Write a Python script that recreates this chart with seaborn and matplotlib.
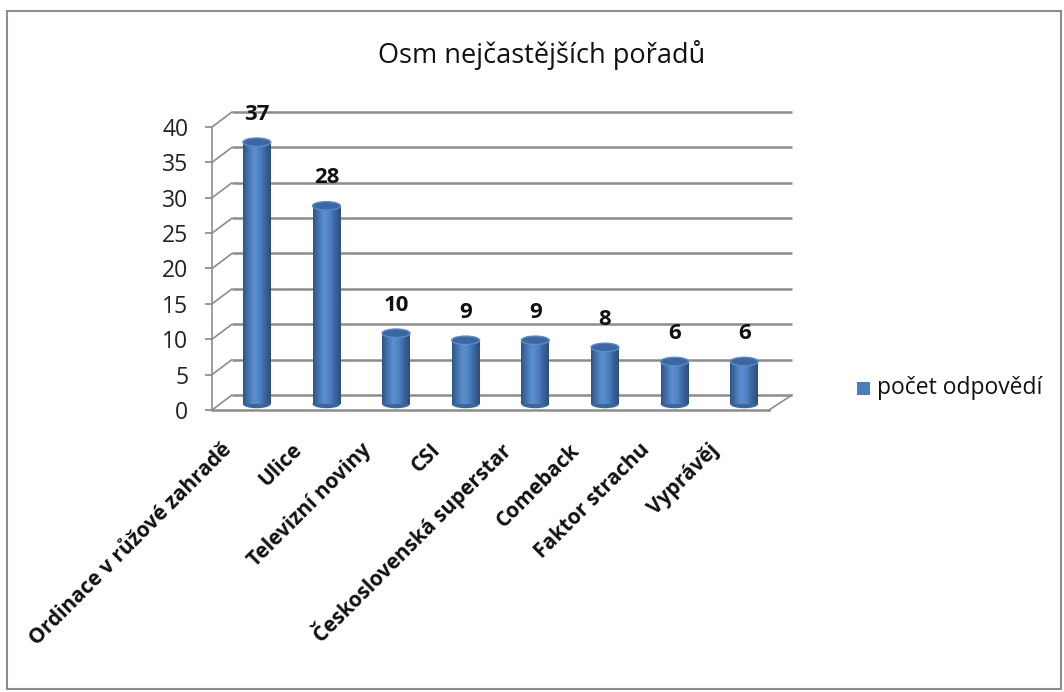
import numpy as np
import pandas as pd
import matplotlib
matplotlib.use("Agg")
import matplotlib.pyplot as plt
import matplotlib.transforms as mtransforms
from matplotlib.patches import Rectangle, Ellipse
from matplotlib.lines import Line2D
from matplotlib.colors import LinearSegmentedColormap
import seaborn as sns

categories = ["Ordinace v růžové zahradě", "Ulice", "Televizní noviny", "CSI",
              "Československá superstar", "Comeback", "Faktor strachu", "Vyprávěj"]
values = [37, 28, 10, 9, 9, 8, 6, 6]
yticks = [0, 5, 10, 15, 20, 25, 30, 35, 40]
title = "Osm nejčastějších pořadů"
series_name = "počet odpovědí"

sns.set_theme(style="white")
plt.rcParams['font.family'] = ['Open Sans', 'DejaVu Sans']

W, H = 1064, 692
fig = plt.figure(figsize=(W / 100, H / 100), dpi=100)
ax = fig.add_axes([212 / W, 1 - 410 / H, (769 - 212) / W, (410 - 127) / H])

df = pd.DataFrame({"cat": categories, "val": values})
sns.barplot(data=df, x="cat", y="val", ax=ax, color="#4a7ebb", width=0.40,
            edgecolor="none", linewidth=0, saturation=1, zorder=3)

ax.set_ylim(0, 40)
ax.set_xlim(-0.5, len(categories) - 0.5)
ax.set_xlabel("")
ax.set_ylabel("")

dpi = fig.dpi
def off(dx, dy):
    return mtransforms.ScaledTranslation(dx / dpi, dy / dpi, fig.dpi_scale_trans)

bar_tr = ax.transData + off(10, 6)
cyl = LinearSegmentedColormap.from_list(
    "cyl", ["#2f5584", "#4575b0", "#5d8fd0", "#4f82c2", "#3a659d", "#2c4f7c"])
grad = np.linspace(0, 1, 64).reshape(1, -1)
ell_h = 1.2  # ellipse height in data units
for p in list(ax.patches):
    p.set_transform(bar_tr)
    x, w, h = p.get_x(), p.get_width(), p.get_height()
    im = ax.imshow(grad, cmap=cyl, aspect="auto", extent=(x, x + w, 0, h),
                   transform=bar_tr, zorder=3.5, interpolation="bilinear")
    im.set_clip_path(p)
    ax.add_patch(Ellipse((x + w / 2, 0), w, ell_h, transform=bar_tr,
                         facecolor="#3a659d", edgecolor="none", zorder=3.4))
    ax.add_patch(Ellipse((x + w / 2, h), w, ell_h, transform=bar_tr,
                         facecolor="#3b68a3", edgecolor="#5b8bc8", lw=1, zorder=3.8))
ax.set_xlim(-0.5, len(categories) - 0.5)
ax.set_ylim(0, 40)

# back wall gridlines
back = ax.get_yaxis_transform() + off(20, 15)
for v in yticks:
    ax.plot([0, 1.005], [v, v], transform=back, color="#8c8c8c", lw=1.8, zorder=1,
            clip_on=False, solid_capstyle="butt")
# diagonal connectors
x0 = ax.transAxes.transform((0, 0))[0]
for v in yticks:
    y_disp = ax.transData.transform((0, v))[1]
    fig.lines.append(Line2D([x0 / W, (x0 + 20) / W], [y_disp / H, (y_disp + 15) / H],
                            transform=fig.transFigure, color="#8c8c8c", lw=1.2))
# floor right diagonal
x1 = ax.transAxes.transform((1, 0))[0]
y0 = ax.transData.transform((0, 0))[1]
fig.lines.append(Line2D([x1 / W, (x1 + 23) / W], [y0 / H, (y0 + 15) / H],
                        transform=fig.transFigure, color="#8c8c8c", lw=1.2))

for s in ["top", "right"]:
    ax.spines[s].set_visible(False)
ax.spines["left"].set_color("#8c8c8c")
ax.spines["left"].set_linewidth(1.2)
ax.spines["bottom"].set_color("#8c8c8c")
ax.spines["bottom"].set_linewidth(1.8)
ax.set_yticks(yticks)
ax.set_yticklabels([str(t) for t in yticks], fontsize=16.5, color="#222222")
ax.tick_params(axis="y", left=True, length=5, color="#8c8c8c", pad=12)
ax.tick_params(axis="x", bottom=False, pad=25)
ax.set_xticks(range(len(categories)))
ax.set_xticklabels(categories, rotation=45, ha="right", va="center",
                   rotation_mode="anchor", fontsize=15, fontweight="bold", color="#111111")
for lab in ax.get_xticklabels():
    lab.set_transform(lab.get_transform() + off(-18, 6))

for i, v in enumerate(values):
    ax.annotate(str(v), (i, v), xytext=(10, 34), textcoords="offset pixels",
                ha="center", va="center", fontsize=16, fontweight="bold", color="#111111")

fig.text(542 / W, 1 - 55 / H, title, ha="center", va="center", fontsize=19.5, color="#111111")

# legend
fig.patches.append(Rectangle((857 / W, 1 - 395 / H), 13 / W, 13 / H,
                             transform=fig.transFigure, facecolor="#4a7ebb", edgecolor="none"))
fig.text(877 / W, 1 - 388 / H, series_name, ha="left", va="center", fontsize=16.5,
         color="#111111")

# outer border
fig.patches.append(Rectangle((7 / W, 3 / H), (W - 10) / W, (H - 14) / H,
                             transform=fig.transFigure, facecolor="none",
                             edgecolor="#8c8c8c", lw=1.5))

fig.savefig("out.png", dpi=100, facecolor="white")
